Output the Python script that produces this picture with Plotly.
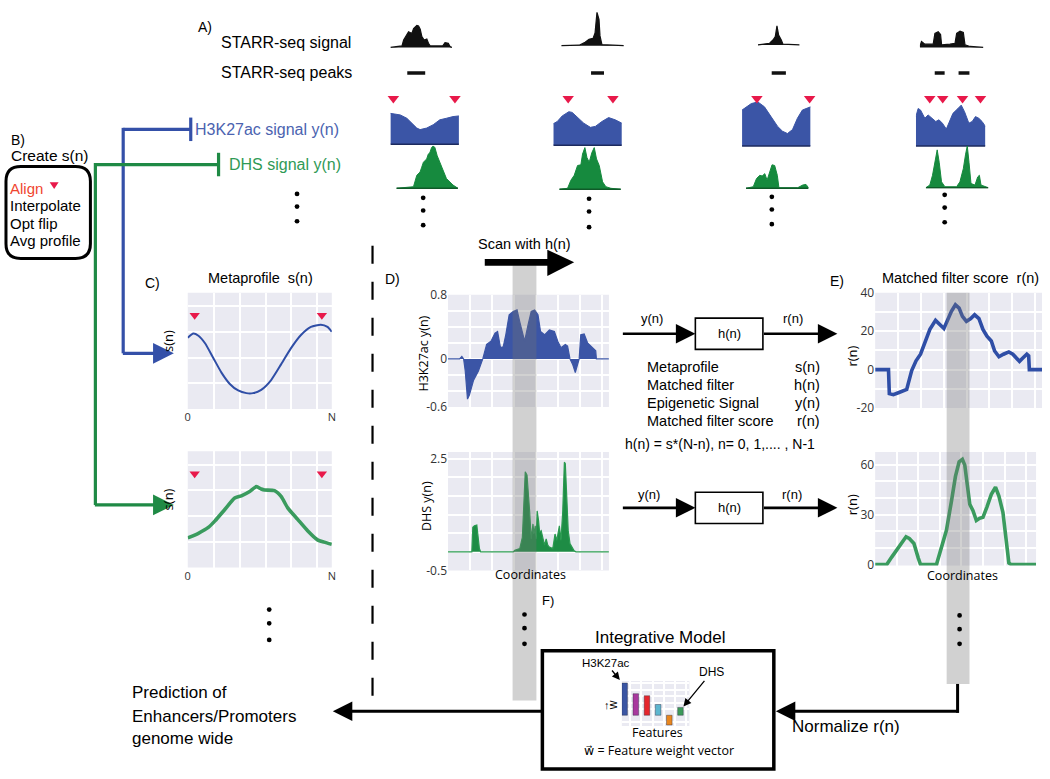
import plotly.graph_objects as go

# ======================= DATA =======================
# Panel A: four example loci. x = position inside the window (%), y = signal height
starr_x = [
    [0, 18.8, 21.5, 24.2, 29.5, 34.9, 37.6, 43, 45.7, 48.4, 51.1, 54.8, 59.1, 61.8, 64.5, 85, 88.7, 94, 96.8, 100],
    [0, 28.6, 38.1, 44.4, 50.8, 54, 57.1, 60.3, 61.9, 65, 100],
    [0, 28, 36, 41.6, 45.6, 49.6, 56, 60, 100],
    [0, 2.6, 7.9, 21, 23.7, 28.9, 32.6, 34.2, 47.4, 55.3, 57.9, 63.2, 68.4, 71, 78.9, 100]]
starr_y = [
    [0, 1.6, 7.6, 11, 16, 14.3, 19.3, 22.6, 22, 18.6, 11, 7.6, 8.6, 4.3, 1.6, 1.6, 5, 4.3, 1, 0],
    [0, 0.5, 3.5, 6.5, 7.5, 13, 34, 27, 10, 1, 0],
    [0, 1.7, 5, 8.4, 19.4, 10, 5, 0.7, 0],
    [1, 6, 3.3, 3.3, 14.3, 16, 13.3, 2.6, 3.3, 4.3, 14.3, 16.6, 15.3, 2.6, 1, 0]]
starr_peaks = [[[27.4, 56.5]], [[47.6, 68.3]], [[33, 67]], [[23.4, 39], [60.9, 78]]]

h3_x = [
    [0, 14.4, 24, 33.7, 38.5, 43.3, 52.9, 62.5, 72.1, 81.7, 91.3, 100],
    [0, 5.8, 13, 22.7, 27.5, 34.8, 44.4, 54.1, 61.4, 71, 80.7, 90.3, 97.6, 100],
    [0, 6.25, 13.5, 23.1, 32.7, 42.3, 51.9, 59.1, 66.3, 73.6, 80.8, 88, 95.2, 100],
    [0, 3.3, 6.7, 12.9, 17.6, 23.8, 28.6, 33.3, 38.1, 43.8, 48.6, 53.3, 60.5, 65.2, 70, 76.2, 81, 85.7, 90.5, 95.2, 100]]
h3_y = [
    [31.6, 30, 26.6, 20, 16.6, 15, 16.6, 20, 25, 26.6, 28.3, 29],
    [22, 24.3, 30, 34.3, 33.6, 28.6, 22.6, 18.3, 19.3, 24.3, 28.3, 26, 23.3, 22.6],
    [36.7, 40, 43.3, 45, 40, 30, 20, 15, 12.7, 16.7, 28.3, 36.7, 38.3, 40],
    [30, 38.3, 36.7, 28.3, 31.7, 28.3, 25, 26.7, 23.3, 17.3, 25, 33.3, 38.3, 41.7, 35, 23.3, 25, 30, 28.3, 25, 20]]
align_x = [[4.3, 94.2], [21.7, 87], [21.7, 98.6], [20, 38.6, 67.1, 92.9]]

dhs_x = [
    [0, 27.8, 33.2, 38.5, 41.2, 43.9, 49.2, 51.9, 54.5, 57.2, 59.9, 62.6, 66.3, 70.6, 75.9, 81.3, 92, 100],
    [0, 13.5, 18.9, 24.3, 29.7, 35.1, 37.8, 41.6, 44.9, 48.6, 53, 56.8, 60.5, 64.9, 70.3, 75.7, 83.8, 100],
    [0, 11.6, 16.8, 22.1, 25.8, 30, 33.7, 37.9, 41.6, 45.8, 50, 52.6, 82.6, 90.5, 95.8, 100],
    [0, 6.4, 10.7, 14.4, 18.2, 21.4, 25.1, 30.5, 49.2, 54.5, 59.9, 63.6, 66.3, 69, 72.2, 78.6, 82.9, 85.6, 88.2, 100]]
dhs_y = [
    [0, 1.6, 13.3, 16.6, 21.6, 26.6, 30, 35, 36.6, 41.6, 43.3, 41.6, 33.3, 26.6, 16.6, 10, 3.3, 0],
    [0, 1, 9.3, 14.3, 24.3, 25, 36, 42.6, 32.6, 27.6, 37.6, 42.6, 31, 24.3, 7.6, 2.6, 1, 0],
    [0, 1.6, 10, 13.3, 12.6, 15, 8.3, 16.6, 24, 23.3, 13.3, 0.6, 0.6, 3.3, 4, 0.6],
    [0, 2.7, 12.7, 26, 38.7, 26, 6, 1, 1, 6, 19.3, 34.3, 42.7, 26, 4.3, 2.7, 11, 12.7, 2.7, 0]]

# Panel C: metaprofiles s(n)
meta_h3_x = [0, 3.9, 7.4, 12, 17.7, 23.4, 29.2, 35, 40.7, 45.3, 51, 57.9, 64.8, 71.7, 78.6, 85.5, 92.4, 97, 100]
meta_h3 = [73, 77.3, 75, 67.3, 52.3, 37.3, 25.7, 19, 16.3, 16.3, 19.7, 29.7, 45.7, 62.3, 75.7, 84, 86.3, 84, 79]
meta_dhs_x = [0, 7.4, 14.3, 18.9, 25.7, 32.6, 37.2, 43, 47.6, 51, 53.3, 60.2, 64.8, 69.4, 76.3, 83.2, 90.1, 94.7, 100]
meta_dhs = [30.3, 35, 41, 47.7, 59.3, 71, 73.3, 77.7, 82.7, 80.3, 79.3, 78.7, 72.7, 61, 49.3, 37.7, 28.3, 26, 23.7]
meta_align = [4.8, 93.1]

# Panel D: epigenetic signal y(n)
d_h3_x = [0, 7.2, 8.6, 9.7, 10.7, 12.1, 13.3, 15.8, 18.9, 21.6, 24, 26.7, 29.2, 30.8, 32.6, 34.3, 35.9, 38, 40.5,
          42.9, 44.6, 47.6, 49.7, 51.7, 53.8, 55.9, 57.5, 60, 63, 66.1, 68.2, 70.2, 72.9, 74.3, 75.8, 77.4, 79.1,
          80.5, 81.5, 82.5, 84.6, 86.7, 89.7, 91.8, 92.2, 100]
d_h3 = [0, 0, 0.03, 0, -0.15, -0.5, -0.45, -0.27, -0.15, 0, 0.18, 0.22, 0.32, 0.34, 0.14, 0.15, 0.30, 0.55, 0.59,
        0.61, 0.46, 0.22, 0.42, 0.59, 0.61, 0.55, 0.34, 0.30, 0.36, 0.34, 0.22, 0.14, 0.18, 0.16, 0, -0.065, -0.17,
        -0.07, 0, 0.30, 0.31, 0.2, 0.14, 0.1, 0, 0]
d_dhs_x = [0, 14.8, 15.4, 16.4, 17.9, 18.5, 19.5, 20.3, 40.5, 41.5, 44.6, 46.2, 47.2, 48, 49.1, 49.9, 50.7, 51.7,
           52.8, 53.4, 54.2, 54.8, 55.4, 56.3, 56.9, 57.9, 58.9, 60, 61, 62, 63, 65.1, 66.5, 67.6, 69.2, 70.2, 71.3,
           72.3, 72.9, 73.7, 74.7, 75.8, 77, 78.4, 79.5, 100]
d_dhs = [0, 0, 0.66, 0.70, 0.72, 0.48, 0.09, 0, 0, 0.04, 0.09, 0.39, 1.54, 2.15, 2.06, 1.62, 1.1, 0.35, 0.75, 0.48,
         0.7, 0.35, 1.1, 0.83, 0.53, 0.57, 0.35, 0.18, 0.35, 0.18, 0.13, 0.09, 0.48, 0.31, 0.7, 0.31, 1.1, 2.41, 2.37,
         1.54, 0.57, 0.22, 0.13, 0.03, 0, 0]

# Panel E: matched filter score r(n)
e_h3_x = [0, 8, 8.5, 10.9, 13.9, 16.9, 18.9, 21.9, 24.5, 27.2, 29.8, 32.8, 36.2, 38.8, 41.2, 43.1, 45.7, 48.1, 50.3,
          52.3, 54.7, 57.3, 59.6, 62.2, 64.6, 67, 69.6, 71.6, 74.2, 76.9, 80.1, 82.5, 84.5, 86.5, 88.5, 90.9, 92,
          92.4, 100]
e_h3 = [0, 0, -12.5, -13, -12, -10.8, -10.3, -0.5, 4.6, 8, 14, 20.9, 25.6, 23.4, 21.4, 25.1, 30.3, 33.7, 32, 27.7,
        25.1, 26.5, 28.5, 26.5, 20.9, 17.4, 14.9, 9.7, 6.7, 8, 9.2, 8, 6, 4.3, 6, 8, 7.2, 0, 0]
e_dhs_x = [0, 7.2, 10.3, 13.4, 16.5, 19.2, 21.2, 24.1, 26.8, 28.2, 38.1, 41.2, 44.3, 47.4, 49.9, 52.2, 54.2, 55.7,
           57.3, 58.8, 60.8, 62.9, 64.9, 67, 69.5, 72.2, 74.8, 76.9, 79.4, 81.4, 83.1, 84.5, 100]
e_dhs = [0, 0, 4.5, 8.8, 13.7, 16.7, 15.7, 12.7, 3.9, 0, 0, 10.8, 20.6, 38, 53, 61.8, 63.3, 59.8, 46, 36.3, 32.4,
         26.5, 27.8, 28.4, 34.7, 42.2, 46.5, 41.2, 31.4, 16.7, 1, 0, 0]

# Panel F: feature weight vector
features = ["H3K27ac", "f2", "f3", "f4", "f5", "DHS"]
weights = [33, 22, 20, 11, -10, 8]
feature_colors = ["#3A55A3", "#A8399E", "#E5262D", "#5DB6CF", "#E8861F", "#3C9A5A"]

# ======================= STYLE / LAYOUT =======================
W, H = 1050, 779
FONT = "Liberation Sans, Arial, sans-serif"
TICKFONT = "Open Sans, DejaVu Sans, sans-serif"
RED = "#E8194A"
BLUE_FILL = "#3B55A6"
BLUE_LINE = "#2F4EA6"
GREEN_FILL = "#168A3E"
GREEN_LINE = "#3A9B5E"
LAV = "#EAEAF2"


def px(x):
    return x / W


def py(y):
    return 1 - y / H


layout = {}
traces = []
shapes = []
anns = []
_n = [0]


def new_axes(l, r, t, b, xr, yr, xopt=None, yopt=None):
    _n[0] += 1
    i = _n[0]
    s = "" if i == 1 else str(i)
    xa = dict(domain=[px(l), px(r)], range=xr, anchor="y" + s, visible=False, zeroline=False,
              showgrid=False, fixedrange=True)
    ya = dict(domain=[py(b), py(t)], range=yr, anchor="x" + s, visible=False, zeroline=False,
              showgrid=False, fixedrange=True)
    if xopt:
        xa.update(xopt)
    if yopt:
        ya.update(yopt)
    layout["xaxis" + s] = xa
    layout["yaxis" + s] = ya
    return "x" + s, "y" + s


def sns(dtick, tick0=0, tickvals=None, ticktext=None, labels=True, gw=2):
    d = dict(visible=True, showline=False, ticks="", showgrid=False, zeroline=False,
             minor=dict(tickmode="linear", tick0=tick0, dtick=dtick, showgrid=True,
                        gridcolor="white", gridwidth=gw, ticks=""),
             tickfont=dict(family=TICKFONT, size=12, color="#333"), showticklabels=labels)
    if tickvals is not None:
        d.update(tickmode="array", tickvals=tickvals,
                 ticktext=ticktext if ticktext is not None else [str(v) for v in tickvals])
    return d


def lav_bg(xa, ya):
    shapes.append(dict(type="rect", xref=xa + " domain", yref=ya + " domain", x0=0, x1=1, y0=0, y1=1,
                       fillcolor=LAV, line=dict(width=0), layer="below"))


def text(x, y, s, size=14, color="black", xanchor="center", yanchor="middle", angle=0, family=FONT):
    anns.append(dict(x=px(x), y=py(y), xref="paper", yref="paper", text=s, showarrow=False,
                     font=dict(size=size, color=color, family=family), xanchor=xanchor,
                     yanchor=yanchor, textangle=angle, borderpad=0))


def arrow(x0, y0, x1, y1, color="black", width=2.5, size=1.6, head=2):
    anns.append(dict(x=px(x1), y=py(y1), xref="paper", yref="paper", ax=x0 - x1, ay=y0 - y1,
                     axref="pixel", ayref="pixel", text="", showarrow=True, arrowhead=head,
                     arrowsize=size, arrowwidth=width, arrowcolor=color))


def line(x0, y0, x1, y1, color="black", width=2.5, dash=None):
    ln = dict(color=color, width=width)
    if dash:
        ln["dash"] = dash
    shapes.append(dict(type="line", xref="paper", yref="paper", x0=px(x0), y0=py(y0), x1=px(x1), y1=py(y1),
                       line=ln, layer="above"))


def rect(x0, y0, x1, y1, color="black", width=2, fill="rgba(0,0,0,0)"):
    shapes.append(dict(type="rect", xref="paper", yref="paper", x0=px(x0), y0=py(y0), x1=px(x1), y1=py(y1),
                       line=dict(color=color, width=width), fillcolor=fill, layer="above"))


def poly(pts, fill="black"):
    p = "M " + " L ".join(f"{px(a):.5f},{py(b):.5f}" for a, b in pts) + " Z"
    shapes.append(dict(type="path", xref="paper", yref="paper", path=p, fillcolor=fill,
                       line=dict(width=0), layer="above"))


def dot(x, y, r=2.4):
    shapes.append(dict(type="circle", xref="paper", yref="paper", x0=px(x - r), x1=px(x + r),
                       y0=py(y - r), y1=py(y + r), fillcolor="black", line=dict(width=0), layer="above"))


def vdots(x, ys):
    for y in ys:
        dot(x, y)


# ---------------- Panel A ----------------
starr_box = [(390, 452), (562, 625), (760, 802), (923, 987)]
starr_base = [39.3, 37.5, 36.7, 39.3]
h3_box = [(390, 459), (554, 623), (744, 813), (919, 989)]
h3_base = [138.3, 139.3, 140, 140]
dhs_box = [(396, 458), (560, 622), (748, 811), (929, 992)]
dhs_base = [183.3, 184.3, 183.3, 182.7]
col_dots = [(423, [193, 206, 221]), (590, [194, 207, 223]), (774, [192, 205, 220]), (948, [190, 203, 218])]

for c in range(4):
    # STARR-seq signal + peaks
    l, r = starr_box[c]
    b = starr_base[c]
    xa, ya = new_axes(l, r, 0, 72, [0, 100], [-(72 - b), b])
    traces.append(go.Scatter(x=starr_x[c], y=starr_y[c], xaxis=xa, yaxis=ya, mode="lines", fill="tozeroy",
                             fillcolor="#111111", line=dict(color="#111111", width=1.2), hoverinfo="skip"))
    px_, py_ = [], []
    for s0, s1 in starr_peaks[c]:
        px_ += [s0, s1, None]
        py_ += [-(65.5 - b)] * 2 + [None]
    traces.append(go.Scatter(x=px_, y=py_, xaxis=xa, yaxis=ya, mode="lines",
                             line=dict(color="#111111", width=3.5), hoverinfo="skip", cliponaxis=False))
    # H3K27ac
    l, r = h3_box[c]
    b = h3_base[c]
    xa, ya = new_axes(l, r, 84, b + 1, [0, 100], [-1, b - 84])
    traces.append(go.Scatter(x=h3_x[c], y=h3_y[c], xaxis=xa, yaxis=ya, mode="lines", fill="tozeroy",
                             fillcolor=BLUE_FILL, line=dict(color=BLUE_FILL, width=1), hoverinfo="skip"))
    traces.append(go.Scatter(x=[0, 100], y=[0, 0], xaxis=xa, yaxis=ya, mode="lines",
                             line=dict(color="#1C2A5E", width=1.6), hoverinfo="skip"))
    traces.append(go.Scatter(x=align_x[c], y=[b - 91.5] * len(align_x[c]), xaxis=xa, yaxis=ya, mode="markers",
                             marker=dict(symbol="triangle-down", size=10, color=RED), cliponaxis=False,
                             hoverinfo="skip"))
    # DHS
    l, r = dhs_box[c]
    b = dhs_base[c]
    xa, ya = new_axes(l, r, 136, b + 1, [0, 100], [-1, b - 136])
    traces.append(go.Scatter(x=dhs_x[c], y=dhs_y[c], xaxis=xa, yaxis=ya, mode="lines", fill="tozeroy",
                             fillcolor=GREEN_FILL, line=dict(color=GREEN_FILL, width=1), hoverinfo="skip"))
    traces.append(go.Scatter(x=[0, 100], y=[0, 0], xaxis=xa, yaxis=ya, mode="lines",
                             line=dict(color="#0F5A28", width=1.4), hoverinfo="skip"))
    vdots(*col_dots[c])

text(203, 18, "A)", 14)
text(218, 34, "STARR-seq signal", 16, xanchor="left")
text(218, 65, "STARR-seq peaks", 16, xanchor="left")
text(192, 123, "H3K27ac signal y(n)", 16, color="#4B63B0", xanchor="left")
text(227, 159, "DHS signal y(n)", 16, color="#2F9A56", xanchor="left")
vdots(296, [189, 202, 217])

# ---------------- Panel B ----------------
text(7, 134, "B)", 14, xanchor="left")
text(7, 150, "Create s(n)", 15.5, xanchor="left")
x0, x1, y0, y1, rr = 3, 88, 161, 255, 15
P = lambda a, b_: f"{px(a):.5f},{py(b_):.5f}"
path = (f"M {P(x0 + rr, y0)} L {P(x1 - rr, y0)} Q {P(x1, y0)} {P(x1, y0 + rr)} L {P(x1, y1 - rr)} "
        f"Q {P(x1, y1)} {P(x1 - rr, y1)} L {P(x0 + rr, y1)} Q {P(x0, y1)} {P(x0, y1 - rr)} "
        f"L {P(x0, y0 + rr)} Q {P(x0, y0)} {P(x0 + rr, y0)} Z")
shapes.append(dict(type="path", xref="paper", yref="paper", path=path, line=dict(color="black", width=3),
                   fillcolor="rgba(0,0,0,0)", layer="above"))
text(6, 183, "Align", 15, color="#F0452F", xanchor="left")
poly([(47, 177), (56, 177), (51.5, 184)], fill=RED)
text(6, 201, "Interpolate", 15, xanchor="left")
text(6, 219, "Opt flip", 15, xanchor="left")
text(6, 237, "Avg profile", 15, xanchor="left")

# blue / green connectors
BL = "#3450A8"
GR = "#1F8A45"
line(121, 123, 189, 123, BL, 3.2)
line(189, 111, 189, 135, BL, 3.2)
line(121, 121.5, 121, 352, BL, 3.2)
arrow(119.5, 352, 172, 352, BL, 3.2, 1.3)
line(93, 159, 217, 159, GR, 3.2)
line(217, 147, 217, 171, GR, 3.2)
line(93, 157.5, 93, 507, GR, 3.2)
arrow(91.5, 507, 172, 507, GR, 3.2, 1.3)

# ---------------- Panel C ----------------
text(151, 280, "C)", 14)
text(259, 275, "Metaprofile  s(n)", 14.5)
for (t, b, xs, ys, col, lw) in [(290, 409, meta_h3_x, meta_h3, BLUE_LINE, 2),
                                (452, 571, meta_dhs_x, meta_dhs, GREEN_LINE, 3.6)]:
    xopt = sns(18, 0, [0, 100], ["0", "N"])
    xopt["tickfont"] = dict(family=TICKFONT, size=11, color="#333")
    yopt = sns(26.3, 0, labels=False)
    xa, ya = new_axes(186, 331, t, b, [0, 100], [0, 119], xopt, yopt)
    lav_bg(xa, ya)
    traces.append(go.Scatter(x=xs, y=ys, xaxis=xa, yaxis=ya, mode="lines", line=dict(color=col, width=lw,
                             shape="spline", smoothing=0.6), hoverinfo="skip"))
    traces.append(go.Scatter(x=meta_align, y=[96, 96], xaxis=xa, yaxis=ya, mode="markers",
                             marker=dict(symbol="triangle-down", size=9, color=RED), hoverinfo="skip",
                             cliponaxis=False))
    text(176, (t + b) / 2 - 10, "s(n)", 13, angle=-90, family=TICKFONT, xanchor="right")
vdots(268, [614, 628, 645])

# dashed separator
line(372, 242, 372, 705, "black", 2.2, dash="18px,18px")

# ---------------- Panel D ----------------
text(392, 276, "D)", 14)
xa, ya = new_axes(448, 610, 292, 407, [0, 100], [-0.6, 0.8], sns(13.7, 0, labels=False),
                  sns(0.2, 0, [-0.6, 0, 0.8], ["-0.6", "0", "0.8"]))
lav_bg(xa, ya)
traces.append(go.Scatter(x=d_h3_x, y=d_h3, xaxis=xa, yaxis=ya, mode="lines", fill="tozeroy",
                         fillcolor=BLUE_FILL, line=dict(color=BLUE_FILL, width=1.2), hoverinfo="skip"))
xa, ya = new_axes(448, 610, 453, 574, [0, 100], [-0.5, 2.68], sns(13.7, 0, labels=False),
                  sns(0.5, 0, [-0.5, 2.5], ["-0.5", "2.5"]))
lav_bg(xa, ya)
traces.append(go.Scatter(x=d_dhs_x, y=d_dhs, xaxis=xa, yaxis=ya, mode="lines", fill="tozeroy",
                         fillcolor="#1E8C45", line=dict(color="#2A9A50", width=1.2), hoverinfo="skip"))
text(423, 352, "H3K27ac y(n)", 12.5, angle=-90, family=TICKFONT)
text(427, 508, "DHS y(n)", 12.5, angle=-90, family=TICKFONT)
text(531, 578, "Coordinates", 12.5, family=TICKFONT)

# flow diagrams
for yc in (332, 510):
    arrow(623, yc, 697, yc, "black", 2.6, 1.5)
    rect(697, yc - 16, 765, yc + 16, "black", 1.6)
    text(731, yc, "h(n)", 13)
    arrow(765, yc, 840, yc, "black", 2.6, 1.5)
text(653, 316, "y(n)", 13)
text(795, 316, "r(n)", 13)
text(650, 496, "y(n)", 13)
text(794, 496, "r(n)", 13)
for i, (lab, sym) in enumerate([("Metaprofile", "s(n)"), ("Matched filter", "h(n)"),
                                ("Epigenetic Signal", "y(n)"), ("Matched filter score", "r(n)")]):
    text(647, 366 + 18.3 * i, lab, 14.5, xanchor="left")
    text(823, 366 + 18.3 * i, sym, 14.5, xanchor="right")
text(625, 445, "h(n) = s*(N-n), n= 0, 1,.... , N-1", 14, xanchor="left")

# ---------------- Panel E ----------------
text(840, 278, "E)", 14)
text(884, 275, "Matched filter score  r(n)", 14.5, xanchor="left")
xa, ya = new_axes(878, 1046, 290, 408, [0, 100], [-20, 40], sns(13.7, 0, labels=False),
                  sns(10, 0, [-20, 0, 20, 40], ["-20", "0", "20", "40"]))
lav_bg(xa, ya)
traces.append(go.Scatter(x=e_h3_x, y=e_h3, xaxis=xa, yaxis=ya, mode="lines",
                         line=dict(color=BLUE_LINE, width=3.6), hoverinfo="skip"))
xa, ya = new_axes(878, 1040, 453, 569, [0, 100], [-0.6, 67.6], sns(13.4, 0, labels=False),
                  sns(10, 0, [0, 30, 60], ["0", "30", "60"]))
lav_bg(xa, ya)
traces.append(go.Scatter(x=e_dhs_x, y=e_dhs, xaxis=xa, yaxis=ya, mode="lines",
                         line=dict(color=GREEN_LINE, width=3.6), hoverinfo="skip"))
text(855, 355, "r(n)", 13, angle=-90, family=TICKFONT)
text(855, 507, "r(n)", 13, angle=-90, family=TICKFONT)
text(966, 579, "Coordinates", 12.5, family=TICKFONT)

# scanning bands
BAND = "rgba(115,115,115,0.33)"
shapes.append(dict(type="rect", xref="paper", yref="paper", x0=px(513), x1=px(537), y0=py(262), y1=py(707),
                   fillcolor=BAND, line=dict(width=0), layer="above"))
shapes.append(dict(type="rect", xref="paper", yref="paper", x0=px(950), x1=px(973), y0=py(290), y1=py(690),
                   fillcolor=BAND, line=dict(width=0), layer="above"))
vdots(525, [619, 633, 649])
vdots(963, [620, 634, 649])

# scan arrow
text(525, 240, "Scan with h(n)", 14.5)
rect(485, 255.5, 550, 262.5, "black", 0, "black")
poly([(548, 246), (575, 259), (548, 273)])

# ---------------- Panel F ----------------
text(549, 605, "F)", 13)
text(661, 643, "Integrative Model", 17)
rect(543, 656, 776, 777, "black", 3.5)
xa, ya = new_axes(623, 691, 687, 733, [-0.25, 5.8], [-11, 35], sns(1, 0.5, labels=False, gw=1.5),
                  sns(6.5, 0, labels=False, gw=1.5))
lav_bg(xa, ya)
traces.append(go.Bar(x=list(range(len(features))), y=weights, xaxis=xa, yaxis=ya, width=0.5,
                     marker=dict(color=feature_colors, line=dict(color="rgba(40,40,60,0.5)", width=0.8)),
                     hoverinfo="skip"))
anns.append(dict(x=px(621), y=py(686), xref="paper", yref="paper", ax=-14, ay=-17, text="H3K27ac",
                 showarrow=True, arrowhead=2, arrowsize=1.2, arrowwidth=1.3, arrowcolor="black",
                 font=dict(size=11.5, family=FONT, color="black")))
anns.append(dict(x=px(685), y=py(713), xref="paper", yref="paper", ax=28, ay=-34, text="DHS",
                 showarrow=True, arrowhead=2, arrowsize=1.2, arrowwidth=1.3, arrowcolor="black",
                 font=dict(size=12, family=FONT, color="black")))
text(608, 712, "↑", 11)
text(615, 712, "w", 12, angle=-90)
text(659, 740, "Features", 12.5, family=TICKFONT)
text(660, 758, "w\u20d7 = Feature weight vector", 12.5, family=TICKFONT)

# bottom connectors
arrow(543, 718, 332, 718, "black", 3, 1.3)
line(961, 690, 961, 719.5, "black", 3)
arrow(962.5, 718, 778, 718, "black", 3, 1.3)
text(793, 733, "Normalize r(n)", 17, xanchor="left")
text(129, 699, "Prediction of", 17, xanchor="left")
text(129, 723, "Enhancers/Promoters", 17, xanchor="left")
text(129, 746, "genome wide", 17, xanchor="left")

fig = go.Figure(data=traces)
fig.update_layout(**layout)
fig.update_layout(width=W, height=H, margin=dict(l=0, r=0, t=0, b=0), paper_bgcolor="white",
                  plot_bgcolor="rgba(0,0,0,0)", showlegend=False, shapes=shapes, annotations=anns,
                  font=dict(family=FONT, size=14, color="black"))
fig.write_html("out.html", config={"displayModeBar": False},
               post_script="document.body.style.margin='0px';document.body.style.overflow='hidden';")
